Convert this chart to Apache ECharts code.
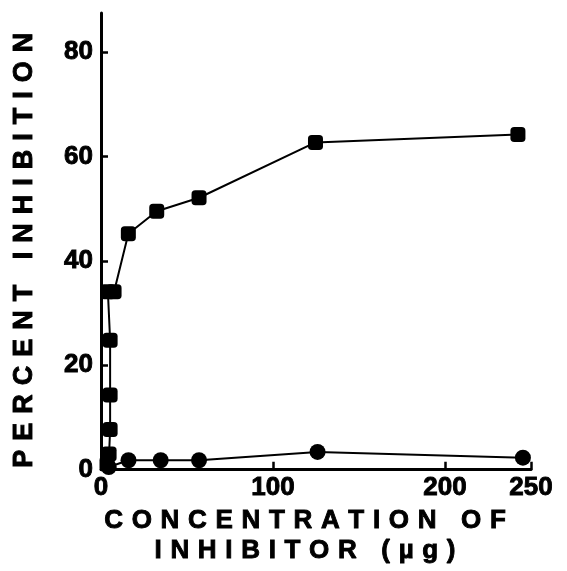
<!DOCTYPE html>
<html><head><meta charset="utf-8">
<script src="https://cdn.jsdelivr.net/npm/echarts@6/dist/echarts.min.js"></script>
<style>html,body{margin:0;padding:0;background:#fff}#c{width:567px;height:571px}</style>
</head><body><div id="c"></div>
<script>
// Squares series (concentration µg, percent inhibition)
const squareX = [3.5, 4.7, 5.3, 5.3, 5.3, 4.0, 7.6, 15.9, 32.4, 57, 124.7, 242.4];
const squareY = [1.1, 3.0, 7.7, 14.3, 24.8, 34.1, 34.1, 45.2, 49.5, 52.1, 62.7, 64.2];
// Circles series
const circleX = [4.5, 16, 34.7, 57, 125.9, 245.3];
const circleY = [0.5, 1.8, 1.8, 1.8, 3.4, 2.3];
// Tick labels
const xTickLabels = [0, 100, 200, 250];
const xTickMarks = [100, 200, 250];
const yTickLabels = [0, 20, 40, 60, 80];
const yTickMarks = [20, 40, 60, 80];
// Titles
const yTitle = 'PERCENT INHIBITION';
const xTitle1 = 'CONCENTRATION OF';
const xTitle2 = 'INHIBITOR (µg)';

function spaced(s) {
  return s.split(' ').map(w => w.split('').join('\u2004')).join('\u2004 \u2004');
}
const FONT = 'Liberation Sans';
const heavy = {color: '#000', fontFamily: FONT, fontWeight: 'bold', textBorderColor: '#000', textBorderWidth: 0.9};
const chart = echarts.init(document.getElementById('c'), null, {renderer: 'canvas'});
chart.setOption({
  animation: false,
  backgroundColor: '#fff',
  grid: {left: 101, right: 36, top: 13, bottom: 93, containLabel: false},
  xAxis: {
    type: 'value', min: 0, max: 250,
    axisLine: {lineStyle: {color: '#000', width: 3}},
    axisTick: {inside: true, length: 8, lineStyle: {color: '#000', width: 2.5}, customValues: xTickMarks},
    axisLabel: Object.assign({customValues: xTickLabels, fontSize: 26, margin: 5}, heavy),
    splitLine: {show: false},
    name: spaced(xTitle1) + '\n' + spaced(xTitle2),
    nameLocation: 'middle', nameGap: 36,
    nameTextStyle: Object.assign({fontSize: 26, lineHeight: 30, padding: [0, 22, 0, 0]}, heavy)
  },
  yAxis: {
    type: 'value', min: 0, max: 87.5,
    axisLine: {lineStyle: {color: '#000', width: 3}},
    axisTick: {inside: true, length: 7, lineStyle: {color: '#000', width: 2.5}, customValues: yTickMarks},
    axisLabel: Object.assign({customValues: yTickLabels, fontSize: 26, margin: 8}, heavy),
    splitLine: {show: false},
    name: spaced(yTitle) + '\u2004\u2004',
    nameLocation: 'middle', nameGap: 63, nameRotate: 90,
    nameTextStyle: Object.assign({fontSize: 27}, heavy)
  },
  series: [
    {
      type: 'line', data: squareX.map((x, i) => [x, squareY[i]]),
      symbol: 'roundRect', symbolSize: 15, showAllSymbol: true,
      itemStyle: {color: '#000'}, lineStyle: {color: '#000', width: 2}
    },
    {
      type: 'line', data: circleX.map((x, i) => [x, circleY[i]]),
      symbol: 'circle', symbolSize: 16, showAllSymbol: true,
      itemStyle: {color: '#000'}, lineStyle: {color: '#000', width: 2}
    }
  ]
});
</script>
</body></html>
